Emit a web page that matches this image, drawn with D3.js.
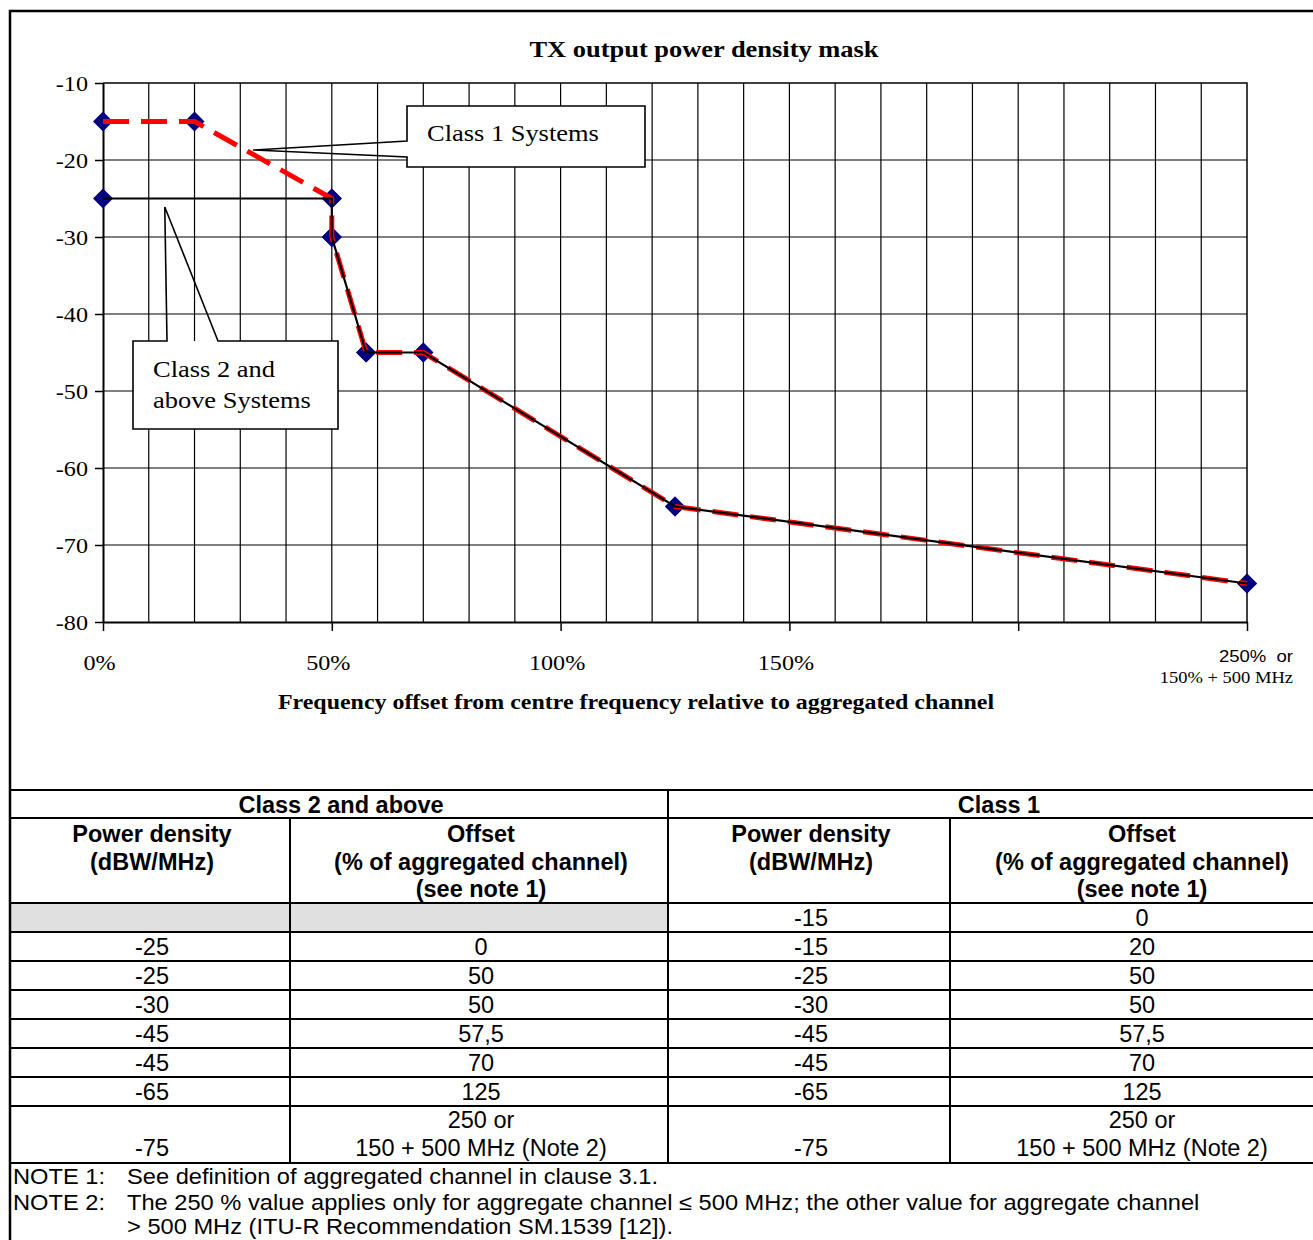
<!DOCTYPE html>
<html><head><meta charset="utf-8">
<script src="https://cdn.jsdelivr.net/npm/d3@7"></script>
<style>body{margin:0;background:#fff}svg{display:block}text{white-space:pre}</style>
</head><body><svg id="c" width="1313" height="1240"></svg>
<script>
// ---------------- data ----------------
const chartTitle = "TX output power density mask";
const xAxisTitle = "Frequency offset from centre frequency relative to aggregated channel";
const offsetsClass2 = [0, 50, 50, 57.5, 70, 125, 250];
const powerClass2   = [-25, -25, -30, -45, -45, -65, -75];
const offsetsClass1 = [0, 20, 50, 50, 57.5, 70, 125, 250];
const powerClass1   = [-15, -15, -25, -30, -45, -45, -65, -75];
const yTicks = [-10, -20, -30, -40, -50, -60, -70, -80];
const xTicks = [0, 50, 100, 150, 200, 250];
const xTickLabels = ["0%", "50%", "100%", "150%", "", ""];
const lastTickLabel1 = "250%  or";
const lastTickLabel2 = "150% + 500 MHz";
const calloutClass1 = "Class 1 Systems";
const calloutClass2 = ["Class 2 and", "above Systems"];

const tableGroupHeaders = ["Class 2 and above", "Class 1"];
const tableColHeaders = [
  ["Power density", "(dBW/MHz)"],
  ["Offset", "(% of aggregated channel)", "(see note 1)"],
  ["Power density", "(dBW/MHz)"],
  ["Offset", "(% of aggregated channel)", "(see note 1)"]
];
const tblC2Power  = ["", "-25", "-25", "-30", "-45", "-45", "-65", "-75"];
const tblC2Offset = ["", "0", "50", "50", "57,5", "70", "125", "250 or|150 + 500 MHz (Note 2)"];
const tblC1Power  = ["-15", "-15", "-25", "-30", "-45", "-45", "-65", "-75"];
const tblC1Offset = ["0", "20", "50", "50", "57,5", "70", "125", "250 or|150 + 500 MHz (Note 2)"];
const noteLabels = ["NOTE 1:", "NOTE 2:", ""];
const noteTexts = [
  "See definition of aggregated channel in clause 3.1.",
  "The 250 % value applies only for aggregate channel \u2264 500 MHz; the other value for aggregate channel",
  "> 500 MHz (ITU-R Recommendation SM.1539 [12])."
];

// ---------------- layout ----------------
const svg = d3.select("#c");
const SERIF = "'Liberation Serif','Times New Roman',Times,serif";
const SANS = "'Liberation Sans',Arial,Helvetica,sans-serif";
const X0 = 103, X1 = 1247, Y0 = 83, Y1 = 622;
const x = d3.scaleLinear().domain([0, 250]).range([X0, X1]);
const y = d3.scaleLinear().domain([-80, -10]).range([Y1, Y0]);

svg.append("rect").attr("width", 1313).attr("height", 1240).attr("fill", "#fff");

function stext(g, px, py, str, o) {
  return g.append("text")
    .attr("transform", `translate(${px},${py}) scale(${o.sx || 1},1)`)
    .attr("font-family", o.family || SERIF)
    .attr("font-size", o.size)
    .attr("font-weight", o.weight || "normal")
    .attr("text-anchor", o.anchor || "start")
    .attr("fill", "#000")
    .text(str);
}

// grid
const grid = svg.append("g").attr("stroke", "#000").attr("stroke-width", 1.2);
grid.selectAll("line.v").data(d3.range(10, 250, 10)).join("line").attr("class", "v")
  .attr("x1", d => x(d)).attr("x2", d => x(d)).attr("y1", Y0).attr("y2", Y1);
grid.selectAll("line.h").data(yTicks.slice(1, -1)).join("line").attr("class", "h")
  .attr("x1", X0).attr("x2", X1).attr("y1", d => y(d)).attr("y2", d => y(d));
// top & right border
svg.append("path").attr("d", `M${X0},${Y0}H${X1}V${Y1}`).attr("fill", "none").attr("stroke", "#000").attr("stroke-width", 1.5);

// y axis
const yAxis = svg.append("g").attr("transform", `translate(${X0},0)`)
  .call(d3.axisLeft(y).tickValues(yTicks).tickSize(8).tickSizeOuter(0).tickFormat(d => String(d)));
yAxis.select(".domain").attr("stroke", "#000").attr("stroke-width", 2);
yAxis.selectAll(".tick line").attr("stroke", "#000").attr("stroke-width", 1.5);
yAxis.selectAll(".tick text").attr("x", 0).attr("dy", "0.34em")
  .attr("transform", "translate(-15,0) scale(1.15,1)")
  .attr("font-family", SERIF).attr("font-size", 21).attr("fill", "#000");

// x axis
const xAxis = svg.append("g").attr("transform", `translate(0,${Y1})`)
  .call(d3.axisBottom(x).tickValues(xTicks).tickSize(9).tickSizeOuter(0).tickFormat((d, i) => xTickLabels[i]));
xAxis.select(".domain").attr("stroke", "#000").attr("stroke-width", 2);
xAxis.selectAll(".tick line").attr("stroke", "#000").attr("stroke-width", 1.5);
xAxis.selectAll(".tick text").attr("y", 0).attr("dy", "0.71em")
  .attr("transform", "translate(-4,33) scale(1.15,1)")
  .attr("font-family", SERIF).attr("font-size", 21).attr("fill", "#000");
stext(svg, 1293, 662, lastTickLabel1, { family: SANS, size: 17, anchor: "end", sx: 1.09 });
stext(svg, 1293, 683, lastTickLabel2, { size: 17, anchor: "end", sx: 1.09 });

// titles
stext(svg, 704, 57, chartTitle, { size: 23, weight: "bold", anchor: "middle", sx: 1.15 });
stext(svg, 636, 709, xAxisTitle, { size: 21, weight: "bold", anchor: "middle", sx: 1.14 });

// callouts (annotations)
const co = svg.append("g");
co.append("rect").attr("x", 407).attr("y", 106).attr("width", 238).attr("height", 61).attr("fill", "#fff");
co.append("path")
  .attr("d", `M407,106H645V167H407V157L${x(32.8)},${y(-18.7)}L407,141Z`)
  .attr("fill", "none").attr("stroke", "#000").attr("stroke-width", 1.6);
stext(co, 427, 141, calloutClass1, { size: 23, sx: 1.15 });
co.append("rect").attr("x", 133).attr("y", 341).attr("width", 205).attr("height", 88).attr("fill", "#fff");
co.append("path")
  .attr("d", `M133,341H167L${x(13.5)},${y(-26.1)}L218,341H338V429H133Z`)
  .attr("fill", "none").attr("stroke", "#000").attr("stroke-width", 1.6);
stext(co, 153, 377, calloutClass2[0], { size: 23, sx: 1.15 });
stext(co, 153, 408, calloutClass2[1], { size: 23, sx: 1.15 });

// markers
const pts = offsetsClass1.map((o, i) => [o, powerClass1[i]])
  .concat(offsetsClass2.map((o, i) => [o, powerClass2[i]]));
svg.append("g").selectAll("path").data(pts).join("path")
  .attr("transform", d => `translate(${x(d[0])},${y(d[1])})`)
  .attr("d", "M0,-10L10,0L0,10L-10,0Z").attr("fill", "#000080");

// lines
const line = d3.line().x(d => x(d[0])).y(d => y(d[1]));
svg.append("path").datum(offsetsClass1.map((o, i) => [o, powerClass1[i]]))
  .attr("d", line).attr("fill", "none").attr("stroke", "#ff0000").attr("stroke-width", 5)
  .attr("stroke-dasharray", "26,12").attr("stroke-linejoin", "round");
svg.append("path").datum(offsetsClass2.map((o, i) => [o, powerClass2[i]]))
  .attr("d", line).attr("fill", "none").attr("stroke", "#000").attr("stroke-width", 2.2);

// ---------------- table ----------------
const T = svg.append("g");
const FS = 23.5;
const cols = [10, 290, 668, 950, 1330];
const colC = cols.slice(0, 4).map((c, i) => (c + cols[i + 1]) / 2 + 2);
const rowLines = [903, 932, 961, 990, 1019, 1048, 1077, 1106, 1163];
// grey cells
T.append("rect").attr("x", 10).attr("y", 903).attr("width", 658).attr("height", 29).attr("fill", "#e0e0e0");
// horizontal lines
[790, 818].concat(rowLines).forEach(yy =>
  T.append("line").attr("x1", 10).attr("x2", 1330).attr("y1", yy).attr("y2", yy).attr("stroke", "#000").attr("stroke-width", 2));
T.append("line").attr("x1", 668).attr("x2", 668).attr("y1", 790).attr("y2", 1163).attr("stroke", "#000").attr("stroke-width", 2);
[290, 950].forEach(xx =>
  T.append("line").attr("x1", xx).attr("x2", xx).attr("y1", 818).attr("y2", 1163).attr("stroke", "#000").attr("stroke-width", 2));
// group headers
stext(T, 341, 813, tableGroupHeaders[0], { family: SANS, size: FS, weight: "bold", anchor: "middle" });
stext(T, 999, 813, tableGroupHeaders[1], { family: SANS, size: FS, weight: "bold", anchor: "middle" });
tableColHeaders.forEach((lines, ci) => lines.forEach((s, li) =>
  stext(T, colC[ci], 842 + li * 27.5, s, { family: SANS, size: FS, weight: "bold", anchor: "middle" })));
// body
const bodyCols = [tblC2Power, tblC2Offset, tblC1Power, tblC1Offset];
bodyCols.forEach((col, ci) => col.forEach((v, ri) => {
  if (!v) return;
  const parts = v.split("|");
  const top = rowLines[ri], bot = rowLines[ri + 1];
  if (parts.length === 1) {
    const base = (ri === col.length - 1) ? bot - 7 : top + 23;
    stext(T, colC[ci], base, parts[0], { family: SANS, size: FS, anchor: "middle" });
  } else {
    stext(T, colC[ci], top + 22, parts[0], { family: SANS, size: FS, anchor: "middle" });
    stext(T, colC[ci], bot - 7, parts[1], { family: SANS, size: FS, anchor: "middle" });
  }
}));
// notes
[1184, 1210, 1234].forEach((yy, i) => {
  if (noteLabels[i]) stext(T, 13, yy, noteLabels[i], { family: SANS, size: 21.5, sx: 1.1 });
  stext(T, 127, yy, noteTexts[i], { family: SANS, size: 21.5, sx: 1.1 });
});

// outer frame
svg.append("path").attr("d", "M1330,11H10V1245").attr("fill", "none").attr("stroke", "#000").attr("stroke-width", 2.5);
</script></body></html>
